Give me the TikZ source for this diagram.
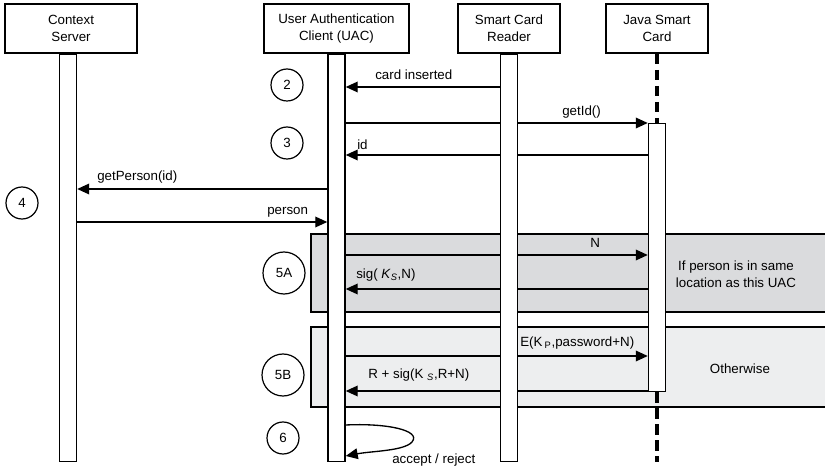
\documentclass[tikz,border=0pt]{standalone}
\usepackage{fontspec}
\setmainfont{Liberation Sans}
\usetikzlibrary{arrows.meta}
\definecolor{bandA}{RGB}{218,219,221}
\definecolor{bandB}{RGB}{237,238,239}
\pgfdeclarelayer{bands}
\pgfdeclarelayer{wires}
\pgfsetlayers{bands,wires,main}
\begin{document}
\begin{tikzpicture}[x=0.75pt,y=-0.75pt,
 font=\fontsize{10}{12.75}\selectfont,
 actor/.style={draw,line width=1.2pt,align=center,minimum height=36.75pt,inner sep=0pt},
 life/.style={draw,fill=white,line width=1.1pt,minimum width=12.75pt,inner sep=0pt,anchor=north},
 msg/.style={line width=1pt,-{Triangle[length=9pt,width=8pt]}},
 numcirc/.style={draw,circle,line width=0.9pt,minimum size=24pt,inner sep=0pt},
 lbl/.style={inner sep=0pt,anchor=west},
 band/.style={line width=1.1pt},
 dashline/.style={line width=2.6pt,dash pattern=on 8pt off 4pt}]%
% pixel grid, y grows downwards
\def\barlen{305.25pt}
\useasboundingbox (0,0) rectangle (825,470);
\node[actor,minimum width=99pt] (cs) at (71,28.5) {Context\\Server};
\node[actor,minimum width=108.75pt] (uac) at (336.5,28.5) {User Authentication\\Client (UAC)};
\node[actor,minimum width=76.5pt] (scr) at (509,28.5) {Smart Card\\Reader};
\node[actor,minimum width=76.5pt] (jsc) at (657,28.5) {Java Smart\\Card};
\coordinate (r1) at (0,87);
\coordinate (r2) at (0,123);
\coordinate (r3) at (0,155);
\coordinate (r4) at (0,189);
\coordinate (r5) at (0,222);
\coordinate (r6) at (0,255);
\coordinate (r7) at (0,289);
\coordinate (r8) at (0,356);
\coordinate (r9) at (0,391);
\coordinate (s1) at (0,425);
\coordinate (s2) at (0,456);
\coordinate (dashend) at (0,462);
\node[life,minimum height=\barlen,xshift=-2.25pt] (csbar) at (cs.south) {};
\node[life,minimum height=\barlen] (uacbar) at (uac.south) {};
\node[life,minimum height=\barlen] (scrbar) at (scr.south) {};
\draw[dashline] (jsc.south)
 --(jsc.south |- r2);
\node[life,minimum height=201pt] (jact) at (jsc.south |- r2) {};
\draw[dashline] (jact.south)
 --(jact.south |- dashend);
\begin{pgfonlayer}{bands}
\draw[band,fill=bandA] (825,234)
 --(311,234)
 --(311,312)
 --(825,312);
\draw[band,fill=bandB] (825,327)
 --(311,327)
 --(311,407)
 --(825,407);
\end{pgfonlayer}
\begin{pgfonlayer}{wires}
\draw[msg] (scrbar.west |- r1) -- (uacbar.east |- r1);
\draw[msg] (uacbar.east |- r2) -- (jact.west |- r2);
\draw[msg] (jact.west |- r3) -- (uacbar.east |- r3);
\draw[msg] (uacbar.west |- r4) -- (csbar.east |- r4);
\draw[msg] (csbar.east |- r5) -- (uacbar.west |- r5);
\draw[msg] (uacbar.east |- r6) -- (jact.west |- r6);
\draw[msg] (jact.west |- r7) -- (uacbar.east |- r7);
\draw[msg] (uacbar.east |- r8) -- (jact.west |- r8);
\draw[msg] (jact.west |- r9) -- (uacbar.east |- r9);
\draw[msg] (uacbar.east |- s1)
 ..controls (385,423) and (422,430) ..(412,442)
 ..controls (404,451) and (372,451) ..(uacbar.east |- s2);
\end{pgfonlayer}
\node[lbl] (tcard) at (375,75) {card inserted};
\node[lbl] (tgetid) at (562,112) {getId()};
\node[lbl] (tid) at (357,145) {id};
\node[lbl] (tgetp) at (97,177) {getPerson(id)};
\node[lbl] (tperson) at (267,212) {person};
\node[lbl] (tn) at (590,243) {N};
\node[lbl] (tsig) at (356,275) {sig( \textit{K}\textsubscript{\textit{S}},N)};
\node[lbl] (te) at (520,343) {E(K\,\textsubscript{P},password+N)};
\node[lbl] (tr) at (368,375) {R + sig(K \textsubscript{\textit{S}},R+N)};
\node[lbl] (tacc) at (392,460) {accept / reject};
\node[align=center] (tsame) at (736,274) {If person is in same\\location as this UAC};
\node (tother) at (740,369) {Otherwise};
\node[numcirc] (n2) at (287,85) {2};
\node[numcirc] (n3) at (287,143) {3};
\node[numcirc] (n4) at (22,203) {4};
\node[numcirc,minimum size=31.5pt] (n5a) at (284,273) {5A};
\node[numcirc,minimum size=31.5pt] (n5b) at (283,375) {5B};
\node[numcirc] (n6) at (283,438) {6};
\end{tikzpicture}
\end{document}
